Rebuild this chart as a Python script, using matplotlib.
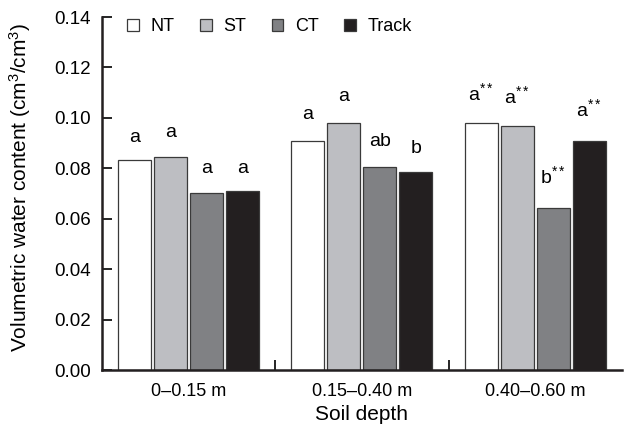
import numpy as np
import matplotlib.pyplot as plt
from matplotlib.patches import Patch

plt.rcParams['font.family'] = ['Liberation Sans', 'DejaVu Sans']
plt.rcParams['mathtext.fontset'] = 'custom'
plt.rcParams['mathtext.rm'] = 'Liberation Sans'
plt.rcParams['mathtext.it'] = 'Liberation Sans'
plt.rcParams['mathtext.default'] = 'regular'

# data
depths = ['0\u20130.15 m', '0.15\u20130.40 m', '0.40\u20130.60 m']
treatments = ['NT', 'ST', 'CT', 'Track']
nt = [0.0833, 0.0907, 0.0981]
st = [0.0846, 0.0981, 0.0966]
ct = [0.0703, 0.0804, 0.0644]
track = [0.0711, 0.0785, 0.0907]
letters_nt = ['a', 'a', 'a$^{**}$']
letters_st = ['a', 'a', 'a$^{**}$']
letters_ct = ['a', 'ab', 'b$^{**}$']
letters_track = ['a', 'b', 'a$^{**}$']

colors = ['#ffffff', '#bdbec2', '#808184', '#231f20']
series = [nt, st, ct, track]
letters = [letters_nt, letters_st, letters_ct, letters_track]
# gap between bar top and letter baseline (pixels)
lift = [[18, 22, 23], [20, 22, 23], [20, 21, 25], [18, 19, 25]]

fig = plt.figure(figsize=(6.25, 4.36), dpi=100)
ax = fig.add_axes([0.163, 0.151, 0.832, 0.810])

x = np.arange(len(depths))
step = 0.208
width = 0.19
for i, vals in enumerate(series):
    pos = x + (i - 1.5) * step
    ax.bar(pos, vals, width, color=colors[i], edgecolor='#3a3a3a', linewidth=0.9, zorder=2)
    for j in range(len(depths)):
        ax.annotate(letters[i][j], (pos[j], vals[j]), xytext=(0, lift[i][j]),
                    textcoords='offset pixels', ha='center', va='baseline', fontsize=14)

ax.set_xlim(-0.5, 2.5)
ax.set_ylim(0, 0.14)
ax.set_yticks(np.arange(0, 0.141, 0.02))
ax.set_yticklabels(['%.2f' % v for v in np.arange(0, 0.141, 0.02)])
ax.set_xticks([0.5, 1.5])
ax.set_xticklabels([])
ax.set_xticks(x, minor=True)
ax.set_xticklabels(depths, minor=True)
ax.tick_params(axis='x', which='minor', length=0, pad=9, labelsize=13)
ax.tick_params(axis='x', which='major', direction='in', length=7, width=1.2)
ax.tick_params(axis='y', direction='in', length=7, width=1.2, labelsize=13.5, pad=8)

for s in ['top', 'right']:
    ax.spines[s].set_visible(False)
for s in ['left', 'bottom']:
    ax.spines[s].set_linewidth(1.8)
    ax.spines[s].set_color('#231f20')

ax.set_ylabel('Volumetric water content (cm$^3$/cm$^3$)', fontsize=15)
ax.yaxis.set_label_coords(-0.132, 0.517)
ax.set_xlabel('Soil depth', fontsize=15)
ax.xaxis.set_label_coords(0.5, -0.1)

handles = [Patch(facecolor=c, edgecolor='#3a3a3a', linewidth=0.9) for c in colors]
ax.legend(handles, treatments, ncol=4, frameon=False, loc='center left',
          bbox_to_anchor=(0.048, 0.972), borderaxespad=0, borderpad=0,
          handlelength=0.66, handleheight=0.66, handletextpad=0.65,
          columnspacing=1.4, fontsize=13)

fig.savefig('out.png', dpi=100)
